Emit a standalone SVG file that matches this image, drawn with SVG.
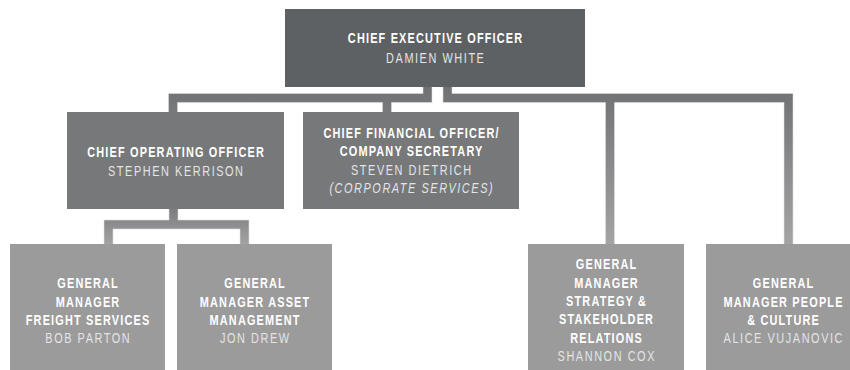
<svg xmlns="http://www.w3.org/2000/svg" width="850" height="370" viewBox="0 0 850 370">
  <defs>
    <!-- connector shading: darker near the parent, lighter towards the children -->
    <linearGradient id="gradMain" gradientUnits="userSpaceOnUse" x1="0" y1="87" x2="0" y2="244">
      <stop offset="0" stop-color="#707173"/>
      <stop offset="1" stop-color="#a4a4a5"/>
    </linearGradient>
    <linearGradient id="gradSub" gradientUnits="userSpaceOnUse" x1="0" y1="209" x2="0" y2="244">
      <stop offset="0" stop-color="#7c7d7f"/>
      <stop offset="1" stop-color="#a2a2a3"/>
    </linearGradient>
    <style>
      .lvl0 { fill: #5e6163; }
      .lvl1 { fill: #77787a; }
      .lvl2 { fill: #9b9b9c; }
      /* labels are set in a narrowed sans: each label block is squeezed horizontally */
      text { font-family: "Liberation Sans", Arial, sans-serif; font-size: 14px; text-anchor: middle; }
      .title { font-weight: bold; fill: #ffffff; letter-spacing: 1.5px; }
      .name { fill: #e4e4e4; letter-spacing: 2px; }
      .note { fill: #e4e4e4; font-style: italic; letter-spacing: 2px; }
      .halo { fill: none; stroke: #ececec; stroke-width: 10; stroke-linejoin: miter; }
      .link { fill: none; stroke-width: 8.5; stroke-linejoin: miter; }
      .main { stroke: url(#gradMain); }
      .sub { stroke: url(#gradSub); }
    </style>
  </defs>

  <!-- connectors -->
  <g id="connectors">
    <path class="halo" d="M427.5 87 V98 H173 V112 M387 98 V112 M447.5 87 V98 H788.5 V244 M610 98 V244 M173.5 209 V224.5 M108.5 244 V224.5 H244.5 V244"/>
    <path class="link main" d="M427.5 87 V98 H173 V112"/>
    <path class="link main" d="M387 98 V112"/>
    <path class="link main" d="M447.5 87 V98 H788.5 V244"/>
    <path class="link main" d="M610 98 V244"/>
    <path class="link sub" d="M173.5 209 V224.5"/>
    <path class="link sub" d="M108.5 244 V224.5 H244.5 V244"/>
  </g>

  <g id="ceo">
    <rect class="lvl0" x="285" y="9" width="300" height="78"/>
    <g transform="translate(435 0) scale(0.78 1)">
      <text class="title" x="0.75" y="43">CHIEF EXECUTIVE OFFICER</text>
      <text class="name" x="1" y="63">DAMIEN WHITE</text>
    </g>
  </g>

  <g id="coo">
    <rect class="lvl1" x="67" y="112" width="217" height="97"/>
    <g transform="translate(175.5 0) scale(0.78 1)">
      <text class="title" x="0.75" y="157">CHIEF OPERATING OFFICER</text>
      <text class="name" x="1" y="176">STEPHEN KERRISON</text>
    </g>
  </g>

  <g id="cfo">
    <rect class="lvl1" x="303" y="112" width="216" height="97"/>
    <g transform="translate(411 0) scale(0.78 1)">
      <text class="title" x="0.75" y="138">CHIEF FINANCIAL OFFICER/</text>
      <text class="title" x="0.75" y="156.5">COMPANY SECRETARY</text>
      <text class="name" x="1" y="175">STEVEN DIETRICH</text>
      <text class="note" x="1" y="193">(CORPORATE SERVICES)</text>
    </g>
  </g>

  <g id="gm-freight">
    <rect class="lvl2" x="10" y="244" width="155" height="126"/>
    <g transform="translate(87.5 0) scale(0.78 1)">
      <text class="title" x="0.75" y="288.5">GENERAL</text>
      <text class="title" x="0.75" y="306.8">MANAGER</text>
      <text class="title" x="0.75" y="325.1">FREIGHT SERVICES</text>
      <text class="name" x="1" y="343.4">BOB PARTON</text>
    </g>
  </g>

  <g id="gm-asset">
    <rect class="lvl2" x="177" y="244" width="155" height="126"/>
    <g transform="translate(254.5 0) scale(0.78 1)">
      <text class="title" x="0.75" y="288.5">GENERAL</text>
      <text class="title" x="0.75" y="306.8">MANAGER ASSET</text>
      <text class="title" x="0.75" y="325.1">MANAGEMENT</text>
      <text class="name" x="1" y="343.4">JON DREW</text>
    </g>
  </g>

  <g id="gm-strategy">
    <rect class="lvl2" x="528" y="244" width="156" height="126"/>
    <g transform="translate(606 0) scale(0.78 1)">
      <text class="title" x="0.75" y="269.5">GENERAL</text>
      <text class="title" x="0.75" y="287.8">MANAGER</text>
      <text class="title" x="0.75" y="306.1">STRATEGY &amp;</text>
      <text class="title" x="0.75" y="324.4">STAKEHOLDER</text>
      <text class="title" x="0.75" y="342.7">RELATIONS</text>
      <text class="name" x="1" y="361">SHANNON COX</text>
    </g>
  </g>

  <g id="gm-people">
    <rect class="lvl2" x="706" y="244" width="144" height="126"/>
    <g transform="translate(783 0) scale(0.78 1)">
      <text class="title" x="0.75" y="288.5">GENERAL</text>
      <text class="title" x="0.75" y="306.8">MANAGER PEOPLE</text>
      <text class="title" x="0.75" y="325.1">&amp; CULTURE</text>
      <text class="name" x="1" y="343.4">ALICE VUJANOVIC</text>
    </g>
  </g>
</svg>
